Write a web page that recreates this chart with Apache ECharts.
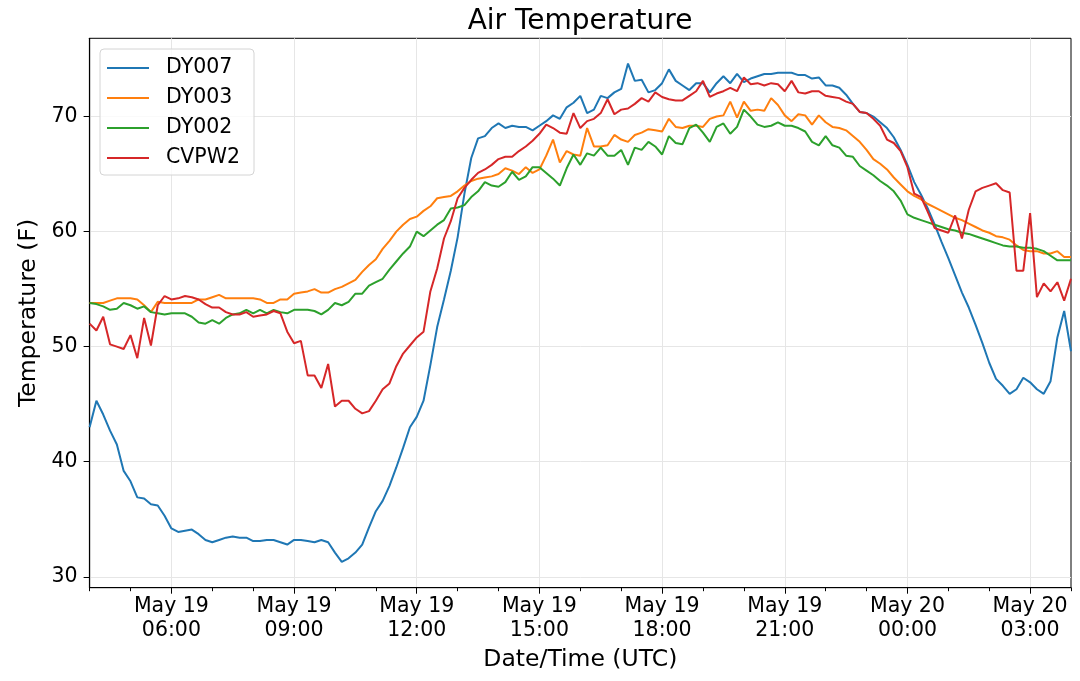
<!DOCTYPE html>
<html>
<head>
<meta charset="utf-8">
<script src="https://cdn.jsdelivr.net/npm/echarts@6/dist/echarts.min.js"></script>
<title>Air Temperature</title>
<style>
  html, body { margin: 0; padding: 0; background: #fff; }
  #main { width: 1080px; height: 681px; }
</style>
</head>
<body>
<div id="main"></div>
<script>
// readings every 10 minutes, starting May 19 04:00 UTC (hour 4 of May 19)
var startHour = 4;
var stepMinutes = 10;

var names = ['DY007', 'DY003', 'DY002', 'CVPW2'];
var colors = ['#1f77b4', '#ff7f0e', '#2ca02c', '#d62728'];

var dy007 = [43.0,45.3,44.1,42.7,41.5,39.2,38.3,36.9,36.8,36.3,
  36.2,35.3,34.2,33.9,34.0,34.1,33.7,33.2,33.0,33.2,
  33.4,33.5,33.4,33.4,33.1,33.1,33.2,33.2,33.0,32.8,
  33.2,33.2,33.1,33.0,33.2,33.0,32.1,31.3,31.6,32.1,
  32.8,34.3,35.7,36.6,37.9,39.5,41.2,43.0,43.9,45.3,
  48.4,51.7,54.1,56.6,59.5,63.3,66.4,68.1,68.3,69.0,
  69.4,69.0,69.2,69.1,69.1,68.8,69.2,69.6,70.1,69.8,
  70.8,71.2,71.8,70.3,70.6,71.8,71.6,72.1,72.4,74.6,
  73.1,73.2,72.1,72.3,72.9,74.1,73.1,72.7,72.3,72.9,
  72.9,72.1,72.9,73.5,72.9,73.7,73.0,73.3,73.5,73.7,
  73.7,73.8,73.8,73.8,73.6,73.6,73.3,73.4,72.7,72.7,
  72.5,71.9,71.1,70.4,70.3,70.0,69.5,69.0,68.2,67.1,
  65.8,64.3,63.2,62.0,60.6,59.1,57.7,56.2,54.7,53.4,
  51.9,50.3,48.6,47.2,46.6,45.9,46.3,47.3,46.9,46.3,
  45.9,47.0,50.8,53.1,49.6];

var dy003 = [53.8,53.8,53.8,54.0,54.2,54.2,54.2,54.1,53.6,53.0,
  53.9,53.8,53.8,53.8,53.8,53.8,54.1,54.1,54.3,54.5,
  54.2,54.2,54.2,54.2,54.2,54.1,53.8,53.8,54.1,54.1,
  54.6,54.7,54.8,55.0,54.7,54.7,55.0,55.2,55.5,55.8,
  56.5,57.1,57.6,58.5,59.2,60.0,60.6,61.1,61.3,61.8,
  62.2,62.9,63.0,63.1,63.5,64.0,64.4,64.6,64.7,64.8,
  65.0,65.5,65.3,65.0,65.6,65.1,65.4,66.6,68.0,66.0,
  67.0,66.7,66.6,69.0,67.4,67.4,67.5,68.4,68.0,67.8,
  68.4,68.6,68.9,68.8,68.7,69.8,69.1,69.0,69.2,69.2,
  69.1,69.8,70.0,70.1,71.3,69.9,71.3,70.5,70.6,70.5,
  71.6,71.0,70.1,69.6,70.2,70.1,69.3,70.1,69.5,69.1,
  69.0,68.8,68.3,67.8,67.1,66.3,65.9,65.4,64.7,64.1,
  63.5,63.1,62.8,62.4,62.1,61.8,61.5,61.2,61.0,60.7,
  60.4,60.1,59.9,59.6,59.5,59.3,58.8,58.4,58.3,58.3,
  58.1,58.1,58.3,57.8,57.8];

var dy002 = [53.8,53.7,53.5,53.2,53.3,53.8,53.6,53.3,53.5,53.0,
  52.9,52.8,52.9,52.9,52.9,52.6,52.1,52.0,52.3,52.0,
  52.5,52.8,52.9,53.2,52.9,53.2,52.9,53.2,53.0,52.9,
  53.2,53.2,53.2,53.1,52.8,53.2,53.8,53.6,53.9,54.6,
  54.6,55.3,55.6,55.9,56.7,57.4,58.1,58.7,60.0,59.6,
  60.1,60.6,61.0,62.0,62.1,62.3,63.0,63.5,64.3,64.0,
  63.9,64.3,65.2,64.5,64.8,65.6,65.6,65.1,64.6,64.0,
  65.5,66.7,65.8,66.8,66.6,67.3,66.6,66.6,67.1,65.8,
  67.3,67.1,67.8,67.4,66.7,68.3,67.7,67.6,69.0,69.3,
  68.6,67.8,69.1,69.4,68.5,69.1,70.6,70.0,69.3,69.1,
  69.2,69.5,69.2,69.2,69.0,68.7,67.8,67.5,68.3,67.5,
  67.3,66.6,66.5,65.7,65.3,64.9,64.4,64.0,63.5,62.7,
  61.5,61.2,61.0,60.8,60.6,60.4,60.2,60.1,59.9,59.8,
  59.6,59.4,59.2,59.0,58.8,58.7,58.7,58.6,58.6,58.5,
  58.3,57.9,57.5,57.5,57.5];

var cvpw2 = [52.0,51.4,52.6,50.2,50.0,49.8,51.0,49.0,52.5,50.1,
  53.6,54.4,54.1,54.2,54.4,54.3,54.1,53.7,53.4,53.4,
  53.0,52.8,52.8,53.0,52.6,52.7,52.8,53.1,52.9,51.3,
  50.3,50.5,47.5,47.5,46.4,48.5,44.8,45.3,45.3,44.6,
  44.2,44.4,45.3,46.3,46.8,48.3,49.4,50.1,50.8,51.3,
  54.8,56.8,59.4,60.9,62.9,63.8,64.5,65.1,65.4,65.8,
  66.3,66.5,66.5,67.0,67.4,67.9,68.5,69.3,69.0,68.6,
  68.5,70.3,69.0,69.6,69.8,70.3,71.5,70.2,70.6,70.7,
  71.1,71.6,71.3,72.1,71.7,71.5,71.4,71.4,71.8,72.2,
  73.1,71.7,72.0,72.2,72.5,72.2,73.4,72.8,72.9,72.7,
  72.9,72.8,72.2,73.1,72.1,72.0,72.2,72.2,71.8,71.7,
  71.6,71.3,71.1,70.4,70.3,69.8,69.2,68.0,67.7,67.0,
  65.6,63.3,63.0,61.7,60.3,60.1,59.9,61.4,59.4,61.9,
  63.5,63.8,64.0,64.2,63.6,63.4,56.6,56.6,61.6,54.3,
  55.5,54.8,55.6,54.0,55.9];

// hours counted from May 19 00:00 UTC
var tickHours = [6, 9, 12, 15, 18, 21, 24, 27];
var tickLabels = ['May 19\n06:00', 'May 19\n09:00', 'May 19\n12:00', 'May 19\n15:00',
  'May 19\n18:00', 'May 19\n21:00', 'May 20\n00:00', 'May 20\n03:00'];
var yTicks = [30, 40, 50, 60, 70];

var font = 'DejaVu Sans';

function toPoints(values) {
  return values.map(function (v, i) {
    return [startHour + i * stepMinutes / 60, v];
  });
}

var allSeries = [dy007, dy003, dy002, cvpw2];

var chart = echarts.init(document.getElementById('main'));

var option = {
  animation: false,
  backgroundColor: '#fff',
  textStyle: { fontFamily: font, color: '#000' },
  title: {
    text: 'Air Temperature',
    left: 575,
    top: 3,
    textAlign: 'center',
    textStyle: { fontFamily: font, fontSize: 28, fontWeight: 'normal', color: '#000' }
  },
  legend: {
    data: names,
    orient: 'vertical',
    left: 100,
    top: 49,
    icon: 'rect',
    itemWidth: 42,
    itemHeight: 2,
    itemGap: 8,
    padding: [8, 14, 6, 7],
    backgroundColor: 'rgba(255,255,255,0.8)',
    borderColor: '#d4d4d4',
    borderWidth: 1,
    borderRadius: 4,
    textStyle: { fontFamily: font, fontSize: 20.5, color: '#000', lineHeight: 22, padding: [0, 0, 0, 12] }
  },
  grid: {
    left: 89.6,
    right: 9,
    top: 38.3,
    bottom: 93.3,
    show: true,
    borderColor: '#000',
    borderWidth: 1,
    backgroundColor: '#fff'
  },
  xAxis: [{
    type: 'value',
    min: 4,
    max: 28,
    name: 'Date/Time (UTC)',
    nameLocation: 'middle',
    nameGap: 51,
    nameTextStyle: { fontFamily: font, fontSize: 23.5, color: '#000' },
    axisLine: { show: true, onZero: false, lineStyle: { color: '#000', width: 1.2 } },
    axisTick: { show: true, customValues: tickHours, length: 6, lineStyle: { color: '#000', width: 1 } },
    axisLabel: {
      customValues: tickHours,
      formatter: function (v) { return tickLabels[tickHours.indexOf(v)]; },
      fontFamily: font, fontSize: 20.5, lineHeight: 24, color: '#000', margin: 7
    },
    splitLine: { show: true, lineStyle: { color: '#e6e6e6', width: 1 } }
  }, {
    type: 'value',
    min: 4,
    max: 28,
    interval: 1,
    position: 'bottom',
    axisLine: { show: false },
    axisTick: { show: true, length: 3.5, lineStyle: { color: '#000', width: 1 } },
    axisLabel: { show: false },
    splitLine: { show: false }
  }],
  yAxis: {
    type: 'value',
    min: 29.05,
    max: 76.8,
    name: 'Temperature (F)',
    nameLocation: 'middle',
    nameGap: 41,
    nameTextStyle: { fontFamily: font, fontSize: 23.5, color: '#000' },
    axisLine: { show: true, onZero: false, lineStyle: { color: '#000', width: 1.2 } },
    axisTick: { show: true, customValues: yTicks, length: 6, lineStyle: { color: '#000', width: 1 } },
    axisLabel: { customValues: yTicks, fontFamily: font, fontSize: 20.5, color: '#000', margin: 12 },
    splitLine: { show: true, lineStyle: { color: '#e6e6e6', width: 1 } }
  },
  series: allSeries.map(function (vals, i) {
    return {
      name: names[i],
      type: 'line',
      xAxisIndex: 0,
      yAxisIndex: 0,
      showSymbol: false,
      symbol: 'none',
      color: colors[i],
      lineStyle: { color: colors[i], width: 2 },
      data: toPoints(vals)
    };
  })
};

chart.setOption(option);
</script>
</body>
</html>
